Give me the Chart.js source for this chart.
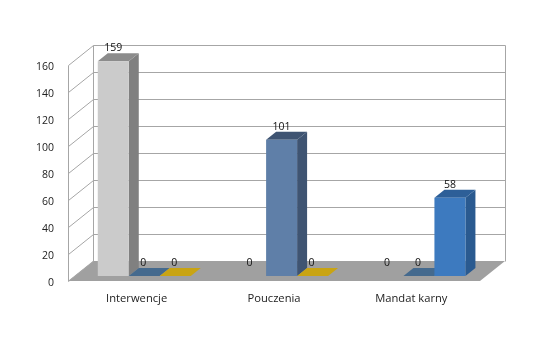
<!DOCTYPE html>
<html>
<head>
<meta charset="utf-8">
<script src="https://cdn.jsdelivr.net/npm/chart.js@4"></script>
<style>
    html, body { margin: 0; padding: 0; background: #fff; }
    canvas { display: block; }
</style>
</head>
<body>
<canvas id="chart" width="552" height="351"></canvas>
<script>
const categories = ['Interwencje', 'Pouczenia', 'Mandat karny'];
const tickValues = [0, 20, 40, 60, 80, 100, 120, 140, 160];

const series1 = [159, 0, 0];
const series2 = [0, 101, 0];
const series3 = [0, 0, 58];

// front, side and top colour of every bar
const front1 = ['#cbcbcb', '#cbcbcb', '#cbcbcb'];
const side1 = ['#808080', '#808080', '#808080'];
const top1 = ['#8c8c8c', '#a0a0a0', '#a0a0a0'];

const front2 = ['#456a8e', '#5f7fa8', '#456a8e'];
const side2 = ['#2f4763', '#3f5472', '#2f4763'];
const top2 = ['#456a8e', '#3f5472', '#456a8e'];

const front3 = ['#c9a413', '#c9a413', '#3d7abf'];
const side3 = ['#a0820e', '#a0820e', '#2a5a90'];
const top3 = ['#c9a413', '#c9a413', '#2d5f98'];

const wallDx = 25, wallDy = -20;   // depth of the walls and floor
const barDx = 7.6, barDy = -5;     // bars stand a little inside the floor
const depthDx = 10, depthDy = -8;  // depth of one bar
const gridColor = '#a6a6a6';
const floorColor = '#a0a0a0';
const font = '"Open Sans", sans-serif';

function poly(ctx, pts, fill) {
    ctx.beginPath();
    pts.forEach((p, i) => i ? ctx.lineTo(p[0], p[1]) : ctx.moveTo(p[0], p[1]));
    ctx.closePath();
    ctx.fillStyle = fill;
    ctx.fill();
}

function line(ctx, x1, y1, x2, y2) {
    ctx.beginPath();
    ctx.moveTo(x1 + 0.5, y1 + 0.5);
    ctx.lineTo(x2 + 0.5, y2 + 0.5);
    ctx.stroke();
}

const walls = {
    id: 'walls',
    beforeDatasetsDraw(chart) {
        const { ctx, chartArea: a, scales: { y } } = chart;
        ctx.save();
        const y0 = y.getPixelForValue(0);
        poly(ctx, [[a.left, y0], [a.left + wallDx, y0 + wallDy], [a.right + wallDx, y0 + wallDy], [a.right, y0]], floorColor);
        ctx.strokeStyle = gridColor;
        ctx.lineWidth = 1;
        tickValues.forEach(v => {
            const py = y.getPixelForValue(v);
            line(ctx, a.left, py, a.left + wallDx, py + wallDy);
            if (v > 0) line(ctx, a.left + wallDx, py + wallDy, a.right + wallDx, py + wallDy);
        });
        line(ctx, a.left, a.top, a.left, a.bottom);
        line(ctx, a.left + wallDx, a.top + wallDy, a.left + wallDx, a.bottom + wallDy);
        line(ctx, a.right + wallDx, a.top + wallDy, a.right + wallDx, a.bottom + wallDy);
        ctx.restore();
    }
};

const bars3d = {
    id: 'bars3d',
    // the library paints the leftmost dataset last, here the right one has to cover the left
    beforeDatasetDraw() {
        return false;
    },
    afterDatasetsDraw(chart) {
        const { ctx } = chart;
        ctx.save();
        ctx.translate(barDx, barDy);
        categories.forEach((c, j) => {
            chart.data.datasets.forEach((ds, i) => {
                const bar = chart.getDatasetMeta(i).data[j];
                const l = bar.x - bar.width / 2, r = bar.x + bar.width / 2;
                const t = bar.y, b = bar.base;
                if (b > t) {
                    poly(ctx, [[r, t], [r + depthDx, t + depthDy], [r + depthDx, b + depthDy], [r, b]], ds.sideColors[j]);
                }
                poly(ctx, [[l, t], [r, t], [r + depthDx, t + depthDy], [l + depthDx, t + depthDy]], ds.topColors[j]);
                bar.draw(ctx);
            });
        });
        // value labels
        ctx.fillStyle = '#111';
        ctx.font = '10.5px ' + font;
        ctx.textAlign = 'center';
        ctx.textBaseline = 'middle';
        chart.data.datasets.forEach((ds, i) => {
            chart.getDatasetMeta(i).data.forEach((bar, j) => {
                ctx.fillText(String(ds.data[j]), bar.x - (ds.data[j] ? 0 : 1), bar.y - 13);
            });
        });
        ctx.restore();
    }
};

new Chart(document.getElementById('chart'), {
    type: 'bar',
    data: {
        labels: categories,
        datasets: [
            { label: 'Seria 1', data: series1, backgroundColor: front1, sideColors: side1, topColors: top1 },
            { label: 'Seria 2', data: series2, backgroundColor: front2, sideColors: side2, topColors: top2 },
            { label: 'Seria 3', data: series3, backgroundColor: front3, sideColors: side3, topColors: top3 }
        ]
    },
    options: {
        responsive: false,
        animation: false,
        layout: { padding: { top: 65, right: 72, left: 0, bottom: 0 } },
        datasets: { bar: { barPercentage: 1, categoryPercentage: 0.677 } },
        plugins: { legend: { display: false }, tooltip: { enabled: false } },
        scales: {
            x: {
                grid: { display: false, drawTicks: false },
                border: { display: false },
                ticks: { color: '#222', padding: 11, maxRotation: 0, font: { size: 11.2, family: font } },
                afterFit: s => { s.height = 70; }
            },
            y: {
                min: 0,
                max: 160,
                grid: { display: false, drawTicks: false },
                border: { display: false },
                afterBuildTicks: s => { s.ticks = tickValues.map(v => ({ value: v })); },
                ticks: { color: '#222', padding: 14, labelOffset: 2, font: { size: 10.5, family: font } },
                afterFit: s => { s.width = 68; }
            }
        }
    },
    plugins: [walls, bars3d]
});
</script>
</body>
</html>
